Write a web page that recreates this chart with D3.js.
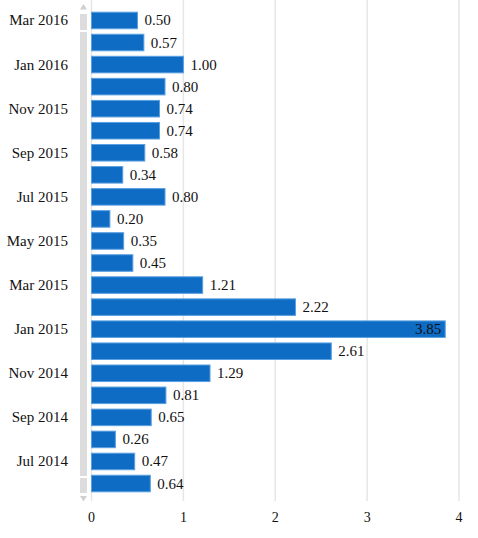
<!DOCTYPE html>
<html><head><meta charset="utf-8">
<script src="https://cdn.jsdelivr.net/npm/d3@7"></script>
<style>body{margin:0;background:#fff}text{font-family:"Liberation Serif","DejaVu Serif",serif}</style>
</head><body><svg id="c" width="478" height="538"></svg>
<script>
const categories=["Mar 2016","Feb 2016","Jan 2016","Dec 2015","Nov 2015","Oct 2015","Sep 2015","Aug 2015","Jul 2015","Jun 2015","May 2015","Apr 2015","Mar 2015","Feb 2015","Jan 2015","Dec 2014","Nov 2014","Oct 2014","Sep 2014","Aug 2014","Jul 2014","Jun 2014"];
const values=[0.50,0.57,1.00,0.80,0.74,0.74,0.58,0.34,0.80,0.20,0.35,0.45,1.21,2.22,3.85,2.61,1.29,0.81,0.65,0.26,0.47,0.64];
const xTicks=[0,1,2,3,4];
const yLabels=categories.filter((d,i)=>i%2===0);

const svg=d3.select("#c");
const x=d3.scaleLinear().domain([0,4]).range([91.5,459]);
const y=d3.scaleBand().domain(categories).range([10,494]).paddingInner(0.25).paddingOuter(0.1);

// grid
svg.append("g").selectAll("line").data(xTicks).join("line")
 .attr("x1",d=>x(d)).attr("x2",d=>x(d)).attr("y1",0).attr("y2",501)
 .attr("stroke","#e6e6e6").attr("stroke-width",1.5);

// scrollbar
const sb=svg.append("g");
sb.append("rect").attr("x",80).attr("y",14).attr("width",7).attr("height",16).attr("fill","#dcdcdc");
sb.append("rect").attr("x",80).attr("y",32).attr("width",7).attr("height",444).attr("fill","#dcdcdc");
sb.append("rect").attr("x",80).attr("y",478).attr("width",7).attr("height",15).attr("fill","#dcdcdc");
sb.append("path").attr("d","M80,9.5 L87,9.5 L83.5,4 Z").attr("fill","#d0d0d0");
sb.append("path").attr("d","M80,496 L87,496 L83.5,501.5 Z").attr("fill","#d0d0d0");

// bars
svg.append("g").selectAll("rect").data(values).join("rect")
 .attr("x",x(0)).attr("y",(d,i)=>y(categories[i]))
 .attr("width",d=>x(d)-x(0)).attr("height",y.bandwidth())
 .attr("fill","#0e6cc4").attr("stroke","#5a9fe0").attr("stroke-width",1);

// value labels
svg.append("g").selectAll("text").data(values).join("text")
 .attr("x",d=>d>3.5? x(d)-4 : x(d)+7)
 .attr("y",(d,i)=>y(categories[i])+y.bandwidth()/2+5)
 .attr("text-anchor",d=>d>3.5?"end":"start")
 .attr("font-size",15).attr("fill","#111")
 .text(d=>d.toFixed(2));

// y labels
svg.append("g").selectAll("text").data(yLabels).join("text")
 .attr("x",68).attr("y",d=>y(d)+y.bandwidth()/2+5)
 .attr("text-anchor","end").attr("font-size",15).attr("fill","#111").text(d=>d);

// x ticks
svg.append("g").selectAll("text").data(xTicks).join("text")
 .attr("x",d=>x(d)).attr("y",522).attr("text-anchor","middle")
 .attr("font-size",14).attr("fill","#111").text(d=>d);
</script></body></html>
